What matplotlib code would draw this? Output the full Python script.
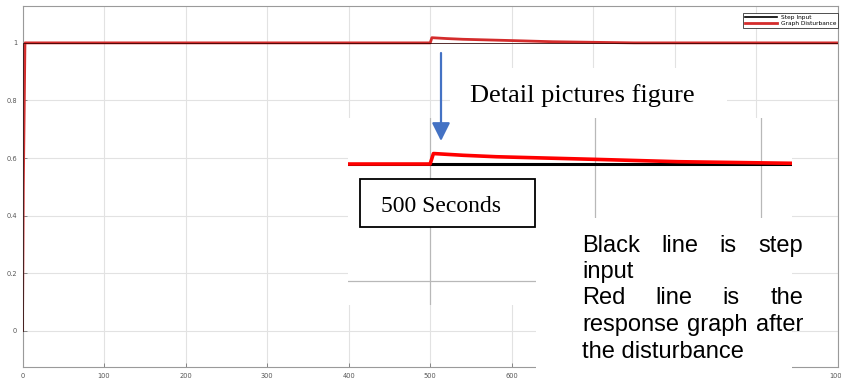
import matplotlib
matplotlib.use("Agg")
import matplotlib.pyplot as plt
from matplotlib.patches import Rectangle, FancyArrowPatch

W, H = 841, 385

# simulation output (time in s)
t_step = [0, 1, 1, 1000]
y_step = [0, 0, 1, 1]
t_resp = [0, 1, 3, 500, 502, 505, 520, 540, 560, 580, 600, 625, 650, 700, 750, 1000]
y_resp = [0, 0.5, 1.0, 1.0, 1.018, 1.0175, 1.015, 1.0125, 1.011, 1.0095, 1.008, 1.006,
          1.004, 1.002, 1.0, 1.0]

x_ticks = [0, 100, 200, 300, 400, 500, 600, 700, 800, 900, 1000]
y_ticks = [0, 0.2, 0.4, 0.6, 0.8, 1]
y_ticklabels = ["0", "0.2", "0.4", "0.6", "0.8", "1"]
legend_labels = ["Step Input", "Graph Disturbance"]

note_lines = [("Black line is step", True), ("input", False), ("Red line is the", True),
              ("response graph after", True), ("the disturbance", False)]


def fx(x):
    return x / W


def fy(y):
    return 1 - y / H


fig = plt.figure(figsize=(W / 100, H / 100), dpi=100)
fig.patch.set_facecolor("white")

# main scope plot
ax = fig.add_axes([fx(22.5), fy(367), (838 - 22.5) / W, (367 - 6) / H])
ax.plot(t_resp, y_resp, color="#d42c2c", lw=2.0, label=legend_labels[1], zorder=2)
ax.plot(t_step, y_step, color="#300000", lw=0.7, alpha=0.8, label=legend_labels[0], zorder=3)
ax.set_xlim(0, 1000)
ax.set_ylim(-0.125, 1.128)
ax.set_xticks(x_ticks)
ax.set_yticks(y_ticks)
ax.set_yticklabels(y_ticklabels)
ax.grid(True, color="#e2e2e2", lw=0.8)
ax.tick_params(direction="in", length=3, width=0.6, color="#777", labelsize=4.8,
               labelcolor="#555", pad=4)
for s in ax.spines.values():
    s.set_color("#9a9a9a")
    s.set_linewidth(0.8)
handles, labels = ax.get_legend_handles_labels()
leg = ax.legend(handles[::-1], labels[::-1], loc="upper right", bbox_to_anchor=(1.0, 0.98),
                borderaxespad=0, fontsize=4.2, handlelength=5.5, fancybox=False,
                framealpha=1, edgecolor="#333", borderpad=0.3, labelspacing=0.15,
                handletextpad=0.6)
leg.get_frame().set_linewidth(0.6)
leg.get_lines()[0].set_color("black")
leg.get_lines()[0].set_linewidth(1.2)
leg.get_lines()[0].set_alpha(1)

# magnified view around the disturbance
ins = fig.add_axes([fx(348), fy(305), (792 - 348) / W, (305 - 118) / H], zorder=2)
ins.set_facecolor("white")
ins.plot(t_step, y_step, color="black", lw=2.2)
ins.plot(t_resp, y_resp, color="#ff0000", lw=2.6)
ins.set_xlim(450.3, 719)
ins.set_ylim(0.758, 1.079)
ins.set_xticks([500, 600, 700])
ins.set_yticks([0.8, 1.0])
ins.grid(True, color="#b8b8b8", lw=0.9)
ins.tick_params(length=0, labelbottom=False, labelleft=False)
for s in ins.spines.values():
    s.set_visible(False)

# white panels behind the notes
fig.add_artist(Rectangle((fx(450), fy(118)), (727 - 450) / W, (118 - 68) / H,
                         transform=fig.transFigure, facecolor="white", edgecolor="none", zorder=3))
fig.add_artist(Rectangle((fx(536), fy(380)), (792 - 536) / W, (380 - 218) / H,
                         transform=fig.transFigure, facecolor="white", edgecolor="none", zorder=3))
fig.add_artist(Rectangle((fx(360), fy(227)), (535 - 360) / W, (227 - 179) / H,
                         transform=fig.transFigure, facecolor="white", edgecolor="black",
                         lw=1.3, zorder=4))

serif = ["Liberation Serif", "DejaVu Serif"]
sans = ["Liberation Sans", "DejaVu Sans"]
fig.text(fx(470), fy(102), "Detail pictures figure", family=serif, fontsize=19,
         va="baseline", ha="left", zorder=5)
fig.text(fx(381), fy(212), "500 Seconds", family=serif, fontsize=17,
         va="baseline", ha="left", zorder=5)

arrow = FancyArrowPatch((fx(441), fy(53)), (fx(441), fy(141)), transform=fig.transFigure,
                        arrowstyle="-|>,head_length=1.1,head_width=0.55", mutation_scale=10,
                        color="#4472c4", lw=1.6, shrinkA=0, shrinkB=0, zorder=6)
fig.add_artist(arrow)

# justified note text
x0, x1 = 582, 803
baselines = [252, 278, 304, 331, 358]
fig.canvas.draw()
renderer = fig.canvas.get_renderer()
for (line, justify), yb in zip(note_lines, baselines):
    words = line.split()
    if not justify:
        fig.text(fx(x0), fy(yb), line, family=sans, fontsize=17, va="baseline",
                 ha="left", zorder=5)
        continue
    items = [fig.text(0, fy(yb), w, family=sans, fontsize=17, va="baseline",
                      ha="left", zorder=5) for w in words]
    widths = [it.get_window_extent(renderer).width for it in items]
    gap = (x1 - x0 - sum(widths)) / (len(words) - 1)
    xpos = x0
    for it, wd in zip(items, widths):
        it.set_x(fx(xpos))
        xpos += wd + gap

fig.savefig("out.png", dpi=100, facecolor="white")
